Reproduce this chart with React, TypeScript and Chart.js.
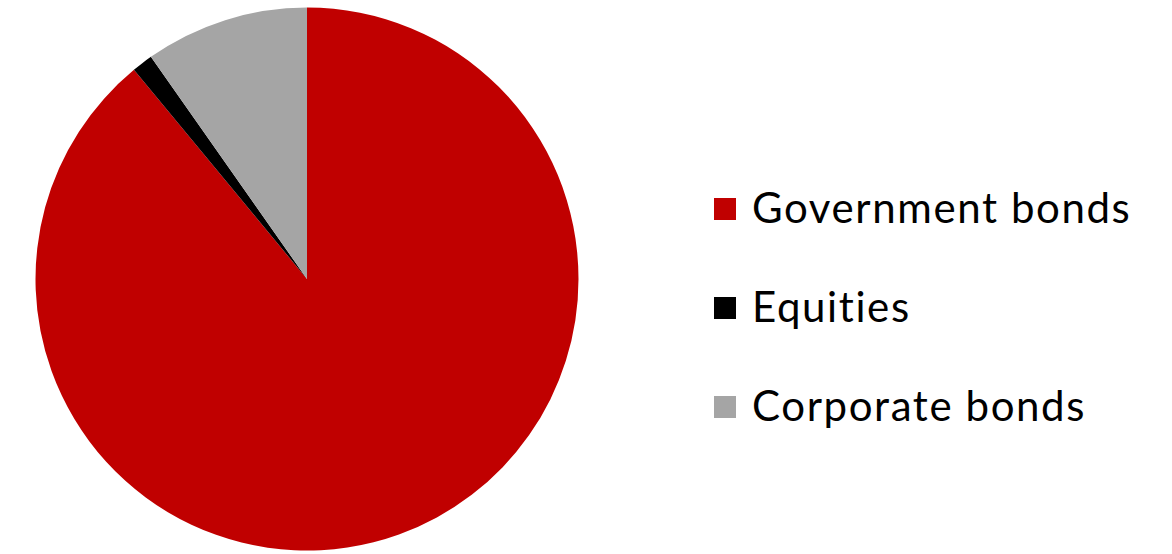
import React, { useEffect, useRef } from "react";
import { Chart, registerables } from "chart.js";

Chart.register(...registerables);

const categories = ["Government bonds", "Equities", "Corporate bonds"];
const shares = [89.0, 1.25, 9.75];
const colors = ["#C00000", "#000000", "#A5A5A5"];

export default function App() {
  const ref = useRef<HTMLCanvasElement | null>(null);

  useEffect(() => {
    document.body.style.margin = "0";
    const ctx = ref.current;
    if (!ctx) return;
    const chart = new Chart(ctx, {
      type: "pie",
      data: {
        labels: categories,
        datasets: [
          {
            data: shares,
            backgroundColor: colors,
            borderWidth: 0,
          },
        ],
      },
      options: {
        responsive: false,
        animation: false,
        layout: { padding: { top: 7.5, bottom: 3.5, left: 0, right: 0 } },
        plugins: {
          legend: { display: false },
          tooltip: { enabled: false },
        },
      },
    });
    return () => chart.destroy();
  }, []);

  return (
    <div
      style={{
        position: "fixed",
        left: 0,
        top: 0,
        width: 1172,
        height: 554,
        background: "#ffffff",
        overflow: "hidden",
      }}
    >
      <canvas
        ref={ref}
        width={614}
        height={554}
        style={{ position: "absolute", left: 0, top: 0, width: 614, height: 554 }}
      />
      {categories.map((c, i) => (
        <div
          key={c}
          style={{
            position: "absolute",
            left: 714,
            top: 187 + i * 99,
            height: 44,
            display: "flex",
            alignItems: "center",
            fontFamily: "Lato, 'Open Sans', sans-serif",
            fontSize: 42,
            letterSpacing: "1.6px",
            fontVariantLigatures: "none",
            color: "#000000",
            whiteSpace: "nowrap",
          }}
        >
          <span
            style={{
              display: "inline-block",
              width: 22,
              height: 22,
              background: colors[i],
              marginRight: 16,
            }}
          />
          <span style={{ position: "relative", top: -2 }}>{c}</span>
        </div>
      ))}
    </div>
  );
}
